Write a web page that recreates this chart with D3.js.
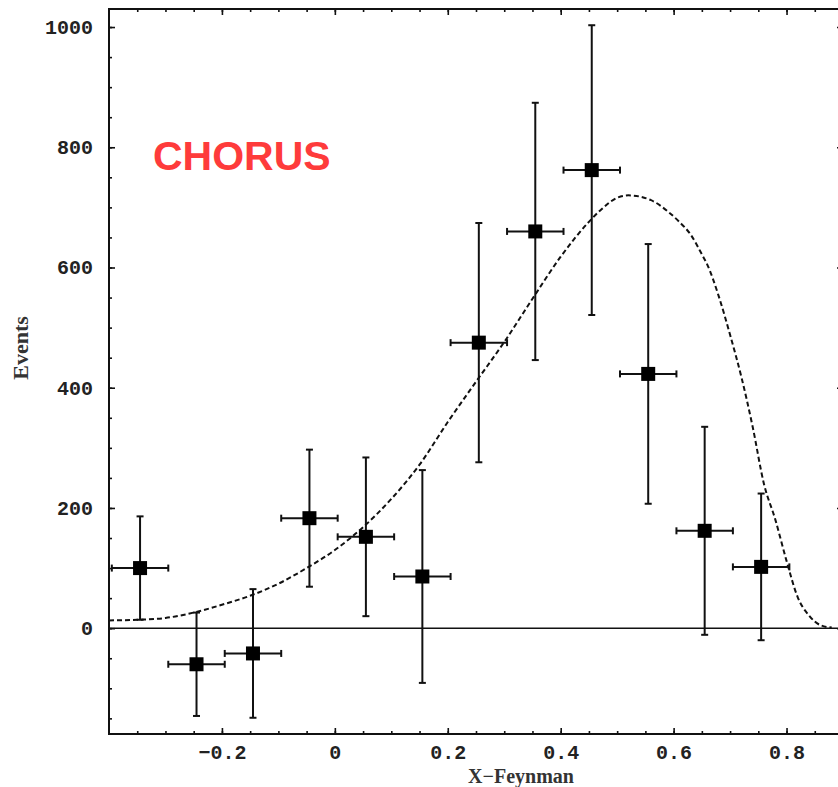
<!DOCTYPE html>
<html>
<head>
<meta charset="utf-8">
<script src="https://cdn.jsdelivr.net/npm/d3@7"></script>
<style>
  body { margin: 0; background: #fff; }
  .tick text { font-family: "Liberation Mono", "Courier New", monospace; font-weight: bold; font-size: 20px; fill: #222; }
</style>
</head>
<body>
<script>
var w = 838;
var h = 787;

// data points (x-Feynman bin centres, events, symmetric errors)
var xfBins = [-0.345, -0.245, -0.145, -0.045, 0.055, 0.155, 0.255, 0.355, 0.455, 0.555, 0.655, 0.755];
var events = [100, -60, -42, 183, 152, 86, 475, 660, 762, 423, 162, 102];
var eventErr = [86, 86, 107, 114, 132, 177, 199, 214, 241, 216, 173, 122];
var xfHalfWidth = 0.05;

// dashed model curve
var curveX = [-0.40, -0.35, -0.30, -0.25, -0.20, -0.15, -0.10, -0.05, 0.00, 0.05, 0.10, 0.15, 0.20, 0.25, 0.30, 0.35, 0.40, 0.45, 0.47, 0.50, 0.52, 0.56, 0.59, 0.61, 0.63, 0.65, 0.66, 0.68, 0.70, 0.72, 0.74, 0.76, 0.78, 0.80, 0.82, 0.84, 0.86, 0.88];
var curveY = [13, 14, 17, 26, 39, 54, 74, 100, 130, 168, 215, 272, 343, 410, 476, 548, 618, 676, 695, 716, 720, 712, 693, 676, 655, 622, 604, 552, 488, 418, 335, 240, 181, 112, 51, 21, 5, 1];

// tick values
var yMajor = [0, 200, 400, 600, 800, 1000];
var xMajor = [-0.2, 0, 0.2, 0.4, 0.6, 0.8];

var xScale = d3.scaleLinear()
  .domain([-0.4, 0.9])
  .range([109, 843]);

var yScale = d3.scaleLinear()
  .domain([-176, 1030])
  .range([734, 9]);

var svg = d3.select("body")
  .append("svg")
  .attr("width", w)
  .attr("height", h);

var fmtX = function(d) { return d === 0 ? "0" : d3.format(".1f")(d).replace("-", "\u2212"); };

// minor ticks every 50 / 0.05
var yMinor = d3.range(-150, 1030, 50);
var xMinor = d3.range(-0.35, 0.9, 0.05).map(function(d) { return Math.round(d * 100) / 100; });

function styleAxis(g) {
  g.select(".domain").remove();
  g.selectAll(".tick line").attr("stroke", "#111").attr("stroke-width", 1.6);
}

// left axis
svg.append("g")
  .attr("transform", "translate(109,0)")
  .call(d3.axisLeft(yScale).tickValues(yMinor).tickSize(-3).tickFormat(""))
  .call(styleAxis);
svg.append("g")
  .attr("transform", "translate(109,0)")
  .call(d3.axisLeft(yScale).tickValues(yMajor).tickSize(-6).tickPadding(16).tickFormat(d3.format("d")))
  .call(styleAxis);

// right axis (ticks only)
svg.append("g")
  .attr("transform", "translate(843,0)")
  .call(d3.axisRight(yScale).tickValues(yMajor).tickSize(-6).tickFormat(""))
  .call(styleAxis);

// bottom axis
svg.append("g")
  .attr("transform", "translate(0,734)")
  .call(d3.axisBottom(xScale).tickValues(xMinor).tickSize(-3).tickFormat(""))
  .call(styleAxis);
svg.append("g")
  .attr("transform", "translate(0,734)")
  .call(d3.axisBottom(xScale).tickValues(xMajor).tickSize(-6).tickPadding(11).tickFormat(fmtX))
  .call(styleAxis);

// top axis (ticks only)
svg.append("g")
  .attr("transform", "translate(0,9)")
  .call(d3.axisTop(xScale).tickValues(xMinor).tickSize(-3).tickFormat(""))
  .call(styleAxis);
svg.append("g")
  .attr("transform", "translate(0,9)")
  .call(d3.axisTop(xScale).tickValues(xMajor).tickSize(-6).tickFormat(""))
  .call(styleAxis);

// frame
svg.append("rect")
  .attr("x", xScale(-0.4))
  .attr("y", yScale(1030))
  .attr("width", xScale(0.9) - xScale(-0.4))
  .attr("height", yScale(-176) - yScale(1030))
  .attr("fill", "none")
  .attr("stroke", "#111")
  .attr("stroke-width", 2);

// zero line
svg.append("line")
  .attr("x1", xScale(-0.4))
  .attr("x2", xScale(0.9))
  .attr("y1", yScale(0))
  .attr("y2", yScale(0))
  .attr("stroke", "#111")
  .attr("stroke-width", 1.6);

// model curve
var line = d3.line()
  .x(function(d) { return xScale(d[0]); })
  .y(function(d) { return yScale(d[1]); })
  .curve(d3.curveMonotoneX);

svg.append("path")
  .datum(d3.zip(curveX, curveY))
  .attr("d", line)
  .attr("fill", "none")
  .attr("stroke", "#111")
  .attr("stroke-width", 2)
  .attr("stroke-dasharray", "5,3");

// data points with error bars
var pts = d3.zip(xfBins, events, eventErr);
var g = svg.append("g").attr("stroke", "#111").attr("stroke-width", 2);

pts.forEach(function(d) {
  var cx = xScale(d[0]), cy = yScale(d[1]);
  var y0 = yScale(d[1] - d[2]), y1 = yScale(d[1] + d[2]);
  var x0 = xScale(d[0] - xfHalfWidth), x1 = xScale(d[0] + xfHalfWidth);
  g.append("line").attr("x1", cx).attr("x2", cx).attr("y1", y0).attr("y2", y1);
  g.append("line").attr("x1", cx - 3.5).attr("x2", cx + 3.5).attr("y1", y0).attr("y2", y0);
  g.append("line").attr("x1", cx - 3.5).attr("x2", cx + 3.5).attr("y1", y1).attr("y2", y1);
  g.append("line").attr("x1", x0).attr("x2", x1).attr("y1", cy).attr("y2", cy);
  g.append("line").attr("x1", x0).attr("x2", x0).attr("y1", cy - 3.5).attr("y2", cy + 3.5);
  g.append("line").attr("x1", x1).attr("x2", x1).attr("y1", cy - 3.5).attr("y2", cy + 3.5);
});

svg.selectAll("rect.pt")
  .data(pts)
  .enter()
  .append("rect")
  .attr("class", "pt")
  .attr("x", function(d) { return xScale(d[0]) - 7; })
  .attr("y", function(d) { return yScale(d[1]) - 7; })
  .attr("width", 14)
  .attr("height", 14)
  .attr("fill", "#000");

// axis labels
svg.append("text")
  .attr("x", 521)
  .attr("y", 783)
  .attr("text-anchor", "middle")
  .attr("font-family", "Liberation Serif, Times New Roman, serif")
  .attr("font-weight", "bold")
  .attr("font-size", 20)
  .attr("fill", "#333")
  .text("X\u2212Feynman");

svg.append("text")
  .attr("transform", "translate(28,348) rotate(-90)")
  .attr("text-anchor", "middle")
  .attr("font-family", "Liberation Serif, Times New Roman, serif")
  .attr("font-weight", "bold")
  .attr("font-size", 22)
  .attr("fill", "#333")
  .text("Events");

// experiment name
svg.append("text")
  .attr("x", 153)
  .attr("y", 170)
  .attr("font-family", "Comic Sans MS, Liberation Sans, sans-serif")
  .attr("font-weight", "bold")
  .attr("font-size", 41)
  .attr("fill", "#fe3b3b")
  .text("CHORUS");
</script>
</body>
</html>
